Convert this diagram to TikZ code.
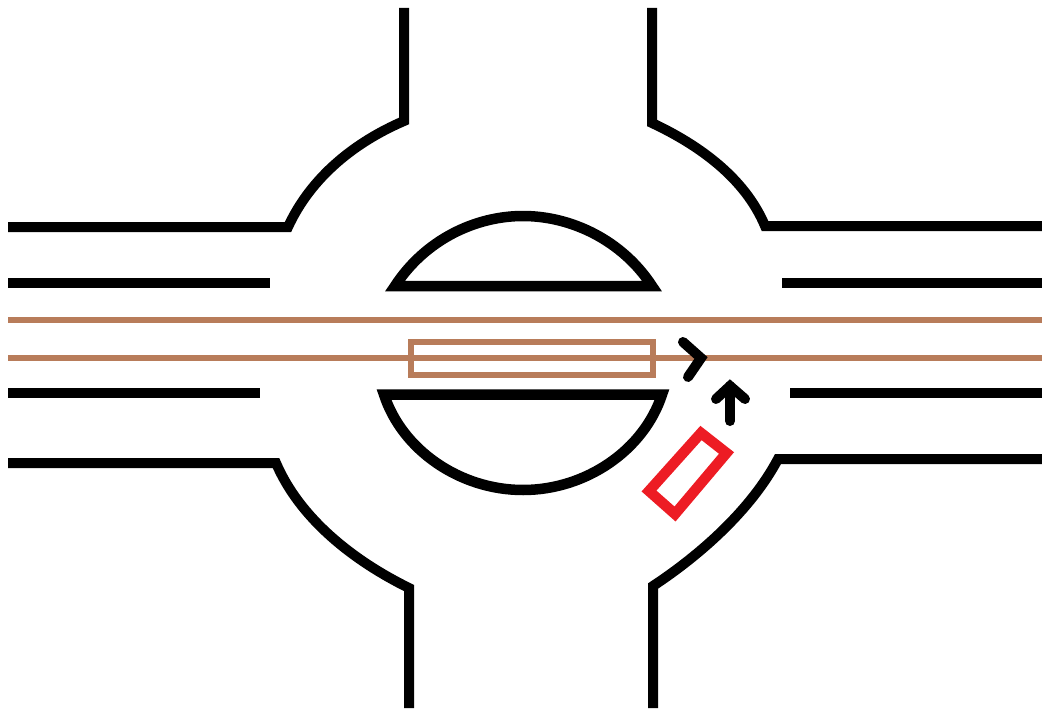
\documentclass[tikz,border=0pt]{standalone}
\usepackage{xcolor}
\usepackage{tikz}
\definecolor{tramBrown}{HTML}{B87C5A}
\definecolor{carRed}{HTML}{ED1C24}

\begin{document}
\begin{tikzpicture}[
    x=1pt,
    y=-1pt,
    road/.style={draw=black, line width=10pt},
    island/.style={draw=black, line width=10.5pt},
    track/.style={draw=tramBrown, line width=6.5pt},
    tram/.style={draw=tramBrown, line width=6.5pt},
    car/.style={draw=carRed, line width=10.5pt, line join=miter},
    turn/.style={draw=black, line width=10pt, line cap=round, line join=miter}
]
\useasboundingbox (0,0) rectangle (1042,709);

% Tram tracks
\draw[track] (8,320) -- (1042,320);
\draw[track] (8,358) -- (1042,358);

% Tram
\draw[tram] (411,342) rectangle (653,375);

% Outer kerbs
\draw[road] (404,8) -- (404,121) .. controls (355,142) and (311,177) .. (288,227) -- (8,227);
\draw[road] (652,8) -- (652,123) .. controls (699,145) and (745,178) .. (765,226) -- (1042,226);
\draw[road] (8,463) -- (276,463) .. controls (300,519) and (354,561) .. (409,588) -- (409,708);
\draw[road] (1042,459) -- (778,459) .. controls (751,510) and (700,555) .. (653,586) -- (653,708);

% Lane edges
\draw[road] (8,283) -- (270,283);
\draw[road] (782,283) -- (1042,283);
\draw[road] (8,393) -- (260,393);
\draw[road] (790,393) -- (1042,393);

% Central islands
\draw[island] (395,286) .. controls (425,240) and (475,216) .. (523,216) .. controls (571,216) and (622,240) .. (652,286) -- cycle;
\draw[island] (384,394.5) .. controls (402,450) and (460,490) .. (523,490) .. controls (586,490) and (644,450) .. (662,394.5) -- cycle;

% Direction arrows
\draw[turn] (683,342) -- (701,358) -- (688,377);
\draw[turn] (730,421) -- (730,386);
\draw[turn] (716,399) -- (730,386) -- (745,399);

% Car
\draw[car] (701,433) -- (726.5,453) -- (675,514) -- (649,491) -- cycle;
\end{tikzpicture}
\end{document}
